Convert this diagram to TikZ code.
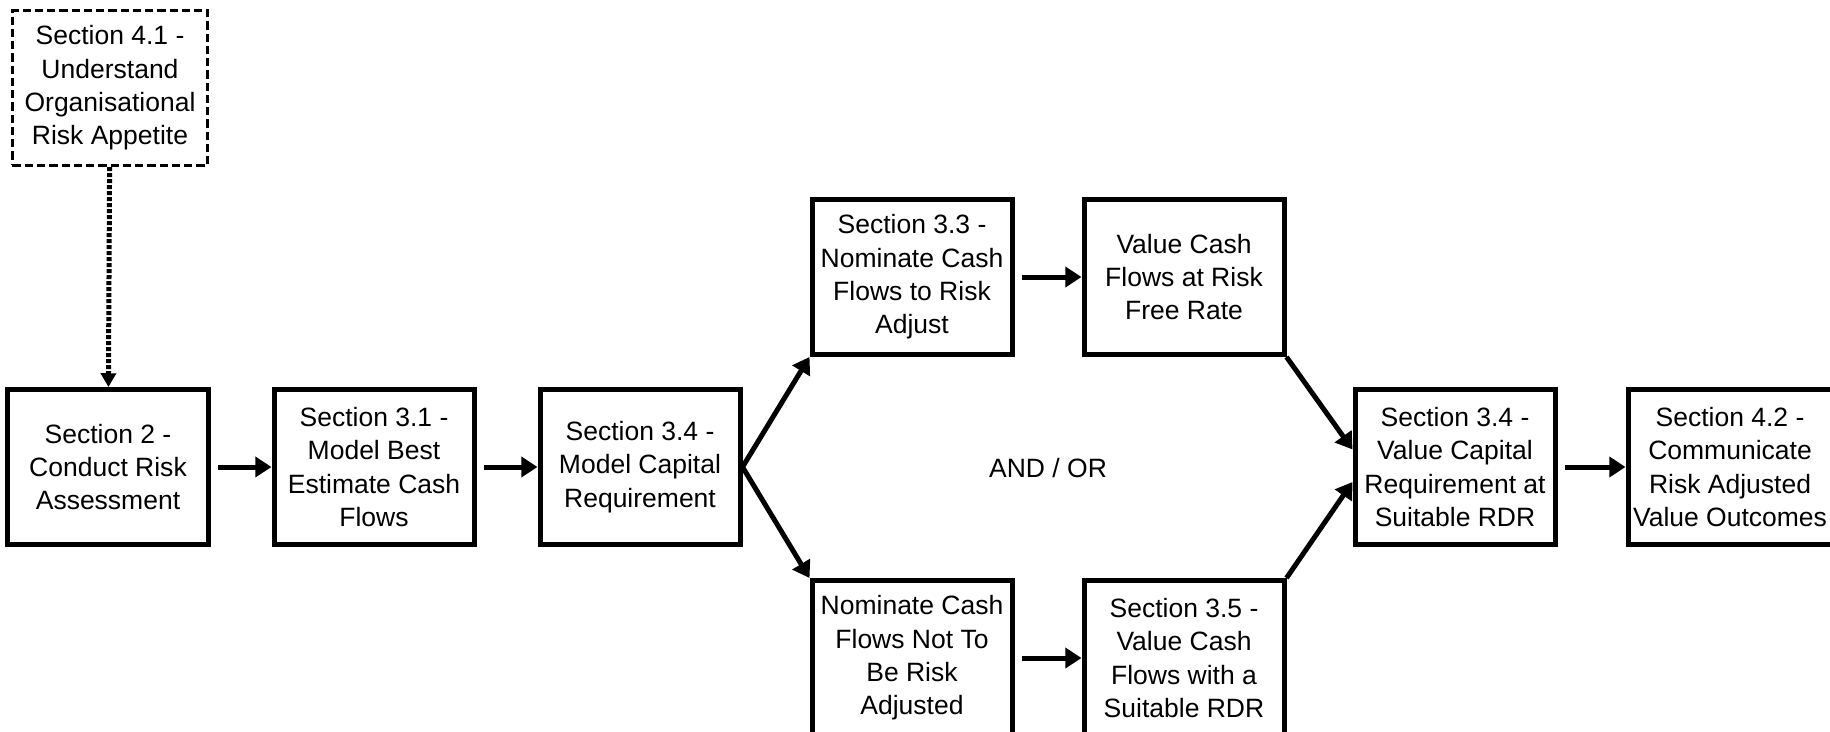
\documentclass[tikz,border=0pt]{standalone}
\usepackage{fontspec}
\setmainfont{Liberation Sans}
\usetikzlibrary{arrows.meta}

\begin{document}
\begin{tikzpicture}[x=0.4pt, y=-0.4pt,
    >={Triangle[length=6.5pt,width=8pt]},
    box/.style={draw, line width=2pt, align=center, minimum width=80pt,
        minimum height=62pt, inner sep=2pt, font=\fontsize{10.6}{13.3}\selectfont},
    dashbox/.style={box, line width=1.3pt, dash pattern=on 3.3pt off 1.6pt,
        minimum width=78pt, inner sep=0.5pt}]
    \useasboundingbox (0,0) rectangle (1830,732);
    \node[dashbox] (appetite) at (110,88) {Section 4.1 -\\Understand\\Organisational\\Risk Appetite};
    \node[box] (assess) at (108,467) {Section 2 -\\Conduct Risk\\Assessment};
    \node[box] (bestest) at (374,467) {Section 3.1 -\\Model Best\\Estimate Cash\\Flows};
    \node[box] (capital) at (640,467) {Section 3.4 -\\Model Capital\\Requirement};
    \node[box] (nomrisk) at (912,277) {Section 3.3 -\\Nominate Cash\\Flows to Risk\\Adjust};
    \node[box] (riskfree) at (1184,277) {Value Cash\\Flows at Risk\\Free Rate};
    \node[box] (nomnot) at (912,658) {Nominate Cash\\Flows Not To\\Be Risk\\Adjusted};
    \node[box] (suitrdr) at (1184,658) {Section 3.5 -\\Value Cash\\Flows with a\\Suitable RDR};
    \node[box] (valcap) at (1455,467) {Section 3.4 -\\Value Capital\\Requirement at\\Suitable RDR};
    \node[box] (commun) at (1730,467) {Section 4.2 -\\Communicate\\Risk Adjusted\\Value Outcomes};
    \node[font=\fontsize{10.6}{13.3}\selectfont] (andor) at (1048,468) {AND / OR};

    \draw[->, line width=2pt, dash pattern=on 1.6pt off 0.8pt,
        >={Triangle[length=5.5pt,width=6pt]}] (appetite) -- (assess);
    \path[line width=2pt]
        (assess) edge[->, shorten <=3pt] (bestest)
        (bestest) edge[->, shorten <=3pt] (capital)
        (capital.east) edge[->] (nomrisk.south west)
        (capital.east) edge[->] (nomnot.north west)
        (nomrisk) edge[->, shorten <=3pt] (riskfree)
        (nomnot) edge[->, shorten <=3pt] (suitrdr)
        (riskfree.south east) edge[->] ([yshift=7pt]valcap.west)
        (suitrdr.north east) edge[->] ([yshift=-6pt]valcap.west)
        (valcap) edge[->, shorten <=3pt] (commun)
        ;
\end{tikzpicture}
\end{document}
